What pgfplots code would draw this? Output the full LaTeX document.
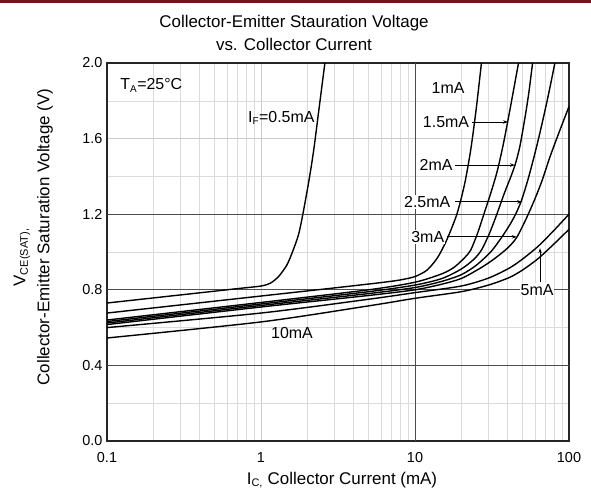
\documentclass[border=0pt]{standalone}
\usepackage{pgfplots}
\pgfplotsset{compat=1.18}
\usepackage{fontspec}
\setmainfont{Liberation Sans}
\usetikzlibrary{arrows.meta}
\newcommand{\lab}{\fontsize{16}{19}\selectfont}
\pgfplotsset{curve/.style={draw=black, solid, line width=1.4bp, smooth, tension=0.45, mark=none}}
\begin{document}
\begin{tikzpicture}[x=1bp,y=1bp]
\useasboundingbox (0,0) rectangle (591,496);
\fill[fill={rgb,255:red,110;green,22;blue,28}] (0,493) rectangle (591,496);
\node[font=\fontsize{17}{23}\selectfont, align=center] at (294,463) {Collector-Emitter Stauration Voltage\\vs. Collector Current};
\node[font=\fontsize{17}{20}\selectfont, rotate=90] at (45,259) {Collector-Emitter Saturation Voltage (V)};
\node[font=\fontsize{17}{20}\selectfont, rotate=90, anchor=west] at (22,206) {V\textsubscript{\fontsize{11}{12}\selectfont CE(SAT)}\textsubscript{\fontsize{11}{12}\selectfont ,}};
\node[font=\fontsize{17}{20}\selectfont] at (342,16) {I\textsubscript{\fontsize{11}{12}\selectfont C,} Collector Current (mA)};
\begin{axis}[
  at={(107bp,55bp)}, anchor=south west,
  scale only axis, width=462bp, height=378bp,
  xmode=log, log basis x=10,
  xmin=0.1, xmax=100, ymin=0, ymax=2,
  xtick={0.1,1,10,100}, xticklabels={0.1,1,10,100},
  minor xtick={0.2,0.3,0.4,0.5,0.6,0.7,0.8,0.9,2,3,4,5,6,7,8,9,20,30,40,50,60,70,80,90},
  ytick={0,0.4,0.8,1.2,1.6,2.0},
  minor ytick={0.2,0.6,1.0,1.4,1.8},
  /pgf/number format/assume math mode=true,
  yticklabel style={/pgf/number format/fixed, /pgf/number format/fixed zerofill, /pgf/number format/precision=1},
  grid=both,
  major grid style={draw=gray!40, line width=0.6bp},
  minor grid style={draw=gray!28, line width=0.5bp},
  extra y ticks={0.4,0.8,1.2}, extra y tick labels={},
  extra x ticks={10}, extra x tick labels={},
  extra tick style={major grid style={draw=black!70, line width=0.7bp}},
  major tick length=0pt, minor tick length=0pt,
  axis line style={draw=black!85, line width=1.3bp},
  tick label style={font=\fontsize{14.5}{16}\selectfont},
  xticklabel style={yshift=-8bp},
  yticklabel style={xshift=-1bp},
]
% IF = 0.5 mA
\addplot[curve] coordinates {(0.1,0.73)(0.2,0.757)(0.4,0.784)(0.7,0.806)(1,0.82)(1.15,0.835)(1.3,0.87)(1.47,0.93)(1.6,1.0)(1.75,1.09)(1.87,1.2)(2.05,1.38)(2.2,1.54)(2.4,1.78)(2.6,2.0)};
% IF = 1 mA
\addplot[curve] coordinates {(0.1,0.677)(1,0.767)(3,0.81)(6,0.838)(8,0.852)(10,0.87)(12,0.905)(14,0.97)(16,1.06)(18.7,1.2)(21,1.36)(23,1.54)(25,1.76)(27,2.0)};
% IF = 1.5 mA
\addplot[curve] coordinates {(0.1,0.64)(1,0.733)(5,0.8)(10,0.84)(15,0.885)(18,0.92)(21,0.97)(23,1.01)(25.5,1.1)(28,1.2)(31,1.31)(34,1.42)(37,1.55)(40,1.69)(43.5,1.85)(47,2.0)};
% IF = 2 mA
\addplot[curve] coordinates {(0.1,0.632)(1,0.725)(5,0.79)(10,0.825)(15,0.86)(20,0.91)(24,0.96)(27,1.01)(30.5,1.1)(34,1.2)(38,1.31)(42,1.40)(45,1.47)(48,1.56)(52,1.72)(55,1.85)(58,2.0)};
% IF = 2.5 mA
\addplot[curve] coordinates {(0.1,0.624)(1,0.717)(5,0.78)(10,0.812)(15,0.845)(20,0.88)(25,0.93)(31,1.0)(36,1.07)(41,1.14)(45,1.2)(49,1.27)(54,1.38)(60,1.52)(66,1.66)(73,1.82)(81,2.0)};
% IF = 3 mA
\addplot[curve] coordinates {(0.1,0.616)(1,0.709)(5,0.77)(10,0.80)(15,0.83)(20,0.86)(26,0.91)(31,0.95)(36,0.99)(41,1.03)(46,1.08)(53,1.18)(60,1.28)(67,1.38)(75,1.5)(85,1.62)(100,1.77)};
% IF = 5 mA
\addplot[curve] coordinates {(0.1,0.60)(1,0.677)(5,0.75)(10,0.785)(20,0.82)(30,0.862)(41,0.915)(50,0.963)(63,1.03)(80,1.115)(100,1.2)};
% IF = 10 mA
\addplot[curve] coordinates {(0.1,0.545)(1,0.63)(5,0.715)(10,0.755)(20,0.79)(30,0.825)(41,0.865)(50,0.905)(63,0.965)(80,1.043)(100,1.12)};

\node[font=\lab, anchor=west] at (axis cs:0.116,1.88) {T\textsubscript{\fontsize{10}{11}\selectfont A}=25°C};
\node[font=\lab, anchor=west, inner sep=1bp] at (axis cs:0.81,1.71) {I\textsubscript{\fontsize{10}{11}\selectfont F}=0.5mA};
\node[font=\lab, fill=white, inner sep=1bp] at (axis cs:16.4,1.868) {1mA};
\node[font=\lab, fill=white, inner sep=1bp] at (axis cs:15.9,1.688) {1.5mA};
\node[font=\lab, fill=white, inner sep=1bp] at (axis cs:13.7,1.46) {2mA};
\node[font=\lab, fill=white, inner sep=1bp] at (axis cs:12.0,1.265) {2.5mA};
\node[font=\lab, fill=white, inner sep=1bp] at (axis cs:12.1,1.08) {3mA};
\node[font=\lab, fill=white, inner sep=1bp] at (axis cs:62,0.80) {5mA};
\node[font=\lab] at (axis cs:1.59,0.571) {10mA};
\draw[black, line width=0.9bp, -{Stealth[length=5bp,width=3.5bp]}] (axis cs:23.4,1.688) -- (axis cs:40.2,1.688);
\draw[black, line width=0.9bp, -{Stealth[length=5bp,width=3.5bp]}] (axis cs:18.2,1.46) -- (axis cs:44.6,1.46);
\draw[black, line width=0.9bp, -{Stealth[length=5bp,width=3.5bp]}] (axis cs:18.2,1.265) -- (axis cs:49.6,1.265);
\draw[black, line width=0.9bp, -{Stealth[length=5bp,width=3.5bp]}] (axis cs:16.1,1.08) -- (axis cs:45.8,1.08);
\draw[black, line width=0.9bp, -{Stealth[length=5bp,width=3.5bp]}] (axis cs:64.9,0.84) -- (axis cs:64.9,1.02);
\end{axis}
\end{tikzpicture}
\end{document}
